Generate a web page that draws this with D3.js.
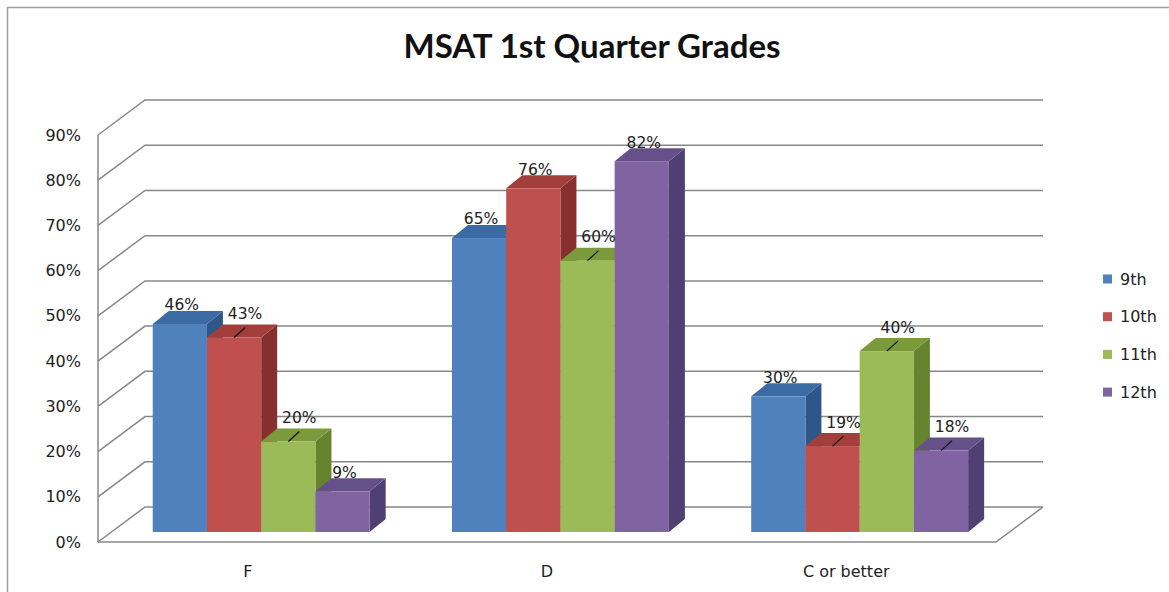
<!DOCTYPE html>
<html>
<head>
<meta charset="utf-8">
<script src="https://cdn.jsdelivr.net/npm/d3@7"></script>
<style>
  body { margin: 0; background: #fff; }
  text { font-family: "DejaVu Sans", sans-serif; fill: #222; }
</style>
</head>
<body>
<script>
var w = 1169;
var h = 592;

// data
var categories = ["F", "D", "C or better"];
var seriesNames = ["9th", "10th", "11th", "12th"];
var grade9 = [0.46, 0.65, 0.30];
var grade10 = [0.43, 0.76, 0.19];
var grade11 = [0.20, 0.60, 0.40];
var grade12 = [0.09, 0.82, 0.18];
var yTicks = [0, 0.1, 0.2, 0.3, 0.4, 0.5, 0.6, 0.7, 0.8, 0.9];
// labels Excel pushed off the bar with a leader line
var leader9 = [false, false, false];
var leader10 = [true, false, true];
var leader11 = [true, true, true];
var leader12 = [false, false, true];

var allSeries = [grade9, grade10, grade11, grade12];
var allLeaders = [leader9, leader10, leader11, leader12];

var front = ["#4f81bd", "#c0504d", "#9bbb59", "#8064a2"];
var topC = ["#3c6aa2", "#a23f3c", "#7a9a3c", "#65508a"];
var sideC = ["#2f5689", "#85302e", "#66832d", "#503f72"];

var svg = d3.select("body").append("svg")
  .attr("width", w)
  .attr("height", h);

// outer chart border
svg.append("rect")
  .attr("x", 7.5).attr("y", 7.5)
  .attr("width", w + 20).attr("height", h + 20)
  .attr("fill", "white")
  .attr("stroke", "#a0a0a0")
  .attr("stroke-width", 1.5);

// 3d layout: back wall and wall depth
var depthX = 47, depthY = 35;
var backLeft = 145, backRight = 1043;
var yBack = d3.scaleLinear().domain([0, 0.9]).range([507, 100]);

// bar plane sits part way into the floor
var barFrac = 25 / 35;
var barDX = -depthX * barFrac, barDY = depthY * barFrac;
var y = d3.scaleLinear().domain([0, 0.9]).range([yBack(0) + barDY, yBack(0.9) + barDY]);

var x0 = d3.scaleBand()
  .domain(categories)
  .range([backLeft + barDX, backRight - depthX + depthX * (1 - barFrac) ])
  .paddingInner(0.275)
  .paddingOuter(0.138);
var x1 = d3.scaleBand()
  .domain(seriesNames)
  .range([0, x0.bandwidth()]);

var bdx = 16, bdy = -13;

var grid = svg.append("g").attr("class", "grid");

// floor outline
var floorPts = [
  [backLeft - depthX, yBack(0) + depthY],
  [backRight - depthX, yBack(0) + depthY],
  [backRight, yBack(0)]
];
grid.append("path")
  .attr("d", d3.line()(floorPts))
  .attr("fill", "none")
  .attr("stroke", "#888")
  .attr("stroke-width", 1.5);

// gridlines: side wall diagonal + back wall horizontal
grid.selectAll("path.gl")
  .data(yTicks)
  .join("path")
  .attr("class", "gl")
  .attr("d", function (d) {
    return d3.line()([
      [backLeft - depthX, yBack(d) + depthY],
      [backLeft, yBack(d)],
      [backRight, yBack(d)]
    ]);
  })
  .attr("fill", "none")
  .attr("stroke", "#888")
  .attr("stroke-width", 1.5);

// front edge of side wall
grid.append("line")
  .attr("x1", backLeft - depthX).attr("x2", backLeft - depthX)
  .attr("y1", yBack(0.9) + depthY).attr("y2", yBack(0) + depthY)
  .attr("stroke", "#888")
  .attr("stroke-width", 1.5);

// y tick labels
svg.append("g")
  .selectAll("text")
  .data(yTicks)
  .join("text")
  .attr("x", 81)
  .attr("y", function (d) { return yBack(d) + depthY; })
  .attr("dy", "0.35em")
  .attr("text-anchor", "end")
  .style("font-size", "16px")
  .text(d3.format(".0%"));

// bars
var bars = [];
categories.forEach(function (c, ci) {
  seriesNames.forEach(function (s, si) {
    bars.push({ cat: c, ser: s, si: si, v: allSeries[si][ci], leader: allLeaders[si][ci] });
  });
});

var barG = svg.append("g")
  .selectAll("g")
  .data(bars)
  .join("g");

function px(d) { return x0(d.cat) + x1(d.ser); }

barG.append("path")
  .attr("d", function (d) {
    var l = px(d), r = l + x1.bandwidth(), t = y(d.v), b = y(0);
    return d3.line()([[r, t], [r + bdx, t + bdy], [r + bdx, b + bdy], [r, b]]) + "Z";
  })
  .attr("fill", function (d) { return sideC[d.si]; });

barG.append("path")
  .attr("d", function (d) {
    var l = px(d), r = l + x1.bandwidth(), t = y(d.v);
    return d3.line()([[l, t], [l + bdx, t + bdy], [r + bdx, t + bdy], [r, t]]) + "Z";
  })
  .attr("fill", function (d) { return topC[d.si]; });

barG.append("rect")
  .attr("x", px)
  .attr("y", function (d) { return y(d.v); })
  .attr("width", x1.bandwidth())
  .attr("height", function (d) { return y(0) - y(d.v); })
  .attr("fill", function (d) { return front[d.si]; });

// value labels
var lab = svg.append("g");
bars.forEach(function (d) {
  var cx = px(d) + x1.bandwidth() / 2;
  var t = y(d.v);
  if (d.leader) {
    lab.append("line")
      .attr("x1", cx).attr("y1", t)
      .attr("x2", cx + 11).attr("y2", t - 10)
      .attr("stroke", "#111")
      .attr("stroke-width", 1.2);
    lab.append("text")
      .attr("x", cx + 11).attr("y", t - 24)
      .attr("dy", "0.35em")
      .attr("text-anchor", "middle")
      .style("font-size", "15.5px")
      .text(d3.format(".0%")(d.v));
  } else {
    lab.append("text")
      .attr("x", cx + 2).attr("y", t - 19)
      .attr("dy", "0.35em")
      .attr("text-anchor", "middle")
      .style("font-size", "15.5px")
      .text(d3.format(".0%")(d.v));
  }
});

// category labels on the front edge of floor
svg.append("g")
  .selectAll("text")
  .data(categories)
  .join("text")
  .attr("x", function (d) { return x0(d) + x0.bandwidth() / 2 - depthX * (1 - barFrac); })
  .attr("y", 571)
  .attr("dy", "0.35em")
  .attr("text-anchor", "middle")
  .style("font-size", "16px")
  .text(function (d) { return d; });

// title
svg.append("text")
  .attr("x", 592)
  .attr("y", 46)
  .attr("dy", "0.35em")
  .attr("text-anchor", "middle")
  .style("font-family", "Lato, sans-serif")
  .style("font-weight", "bold")
  .style("font-size", "33px")
  .style("fill", "#111")
  .text("MSAT 1st Quarter Grades");

// legend
var leg = svg.append("g")
  .selectAll("g")
  .data(seriesNames)
  .join("g")
  .attr("transform", function (d, i) { return "translate(1103," + (279 + i * 37.7) + ")"; });
leg.append("rect")
  .attr("x", 0).attr("y", -4.5)
  .attr("width", 9).attr("height", 9)
  .attr("fill", function (d, i) { return front[i]; });
leg.append("text")
  .attr("x", 17)
  .attr("dy", "0.35em")
  .style("font-size", "16px")
  .text(function (d) { return d; });
</script>
</body>
</html>
